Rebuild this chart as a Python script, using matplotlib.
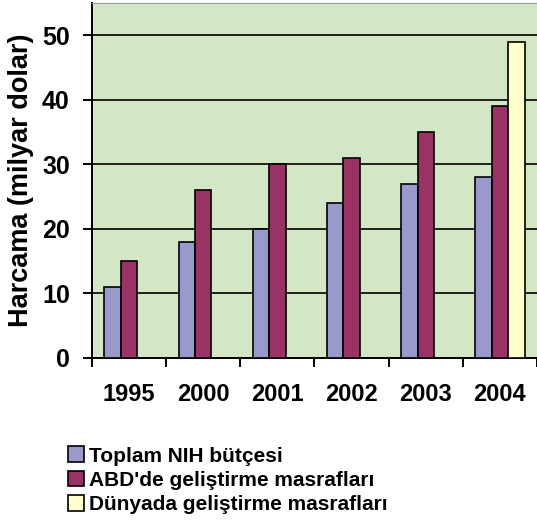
import numpy as np
import matplotlib.pyplot as plt
from matplotlib.patches import Patch

plt.rcParams['font.family'] = ['Liberation Sans', 'DejaVu Sans']
plt.rcParams['font.weight'] = 'bold'

years = ["1995", "2000", "2001", "2002", "2003", "2004"]
nih_budget = [11, 18, 20, 24, 27, 28]
us_dev = [15, 26, 30, 31, 35, 39]
world_dev = [0, 0, 0, 0, 0, 49]

series_names = ["Toplam NIH bütçesi", "ABD'de geliştirme masrafları", "Dünyada geliştirme masrafları"]
colors = ["#9999CC", "#993366", "#FFFFCC"]

fig = plt.figure(figsize=(5.37, 5.24), dpi=100)
ax = fig.add_axes([0.1713, 0.3168, 0.8287, 0.6775])
ax.set_facecolor("#D3E7C7")

x = np.arange(len(years))
w = 1 / 4.5
for i, vals in enumerate([nih_budget, us_dev, world_dev]):
    vals = np.array(vals, dtype=float)
    mask = vals > 0
    ax.bar(x[mask] + (i - 1) * w, vals[mask], width=w, color=colors[i],
           edgecolor="black", linewidth=1.2, zorder=3)

ax.set_xlim(-0.5, len(years) - 0.5)
ax.set_ylim(0, 55)
ax.set_yticks(range(0, 51, 10))
ax.yaxis.grid(True, color="black", linewidth=1.2, zorder=1)
ax.set_axisbelow(True)

ax.set_xticks(x)
ax.set_xticklabels(years, fontsize=17, fontweight="bold")
ax.set_xticks(np.arange(len(years) + 1) - 0.5, minor=True)
ax.tick_params(axis="x", which="major", length=0, pad=18)
ax.tick_params(axis="x", which="minor", length=6.5, width=1.4, direction="out")
ax.tick_params(axis="y", length=6.5, width=1.4, pad=9.5, labelsize=18)
for lbl in ax.get_yticklabels():
    lbl.set_fontweight("bold")

ax.spines["right"].set_visible(False)
ax.spines["top"].set_color("#999999")
ax.spines["left"].set_linewidth(1.4)
ax.spines["bottom"].set_linewidth(1.4)

ax.set_ylabel("Harcama (milyar dolar)", fontsize=19.5, fontweight="bold", labelpad=5.5)

handles = [Patch(facecolor=c, edgecolor="black", linewidth=1.2) for c in colors]
fig.legend(handles, series_names, loc="upper left", bbox_to_anchor=(0.126, 0.148),
           frameon=False, prop={"size": 15, "weight": "bold"},
           handlelength=0.78, handleheight=0.78, handletextpad=0.25,
           labelspacing=0.25, borderaxespad=0, borderpad=0)

fig.savefig("out.png", dpi=100)
